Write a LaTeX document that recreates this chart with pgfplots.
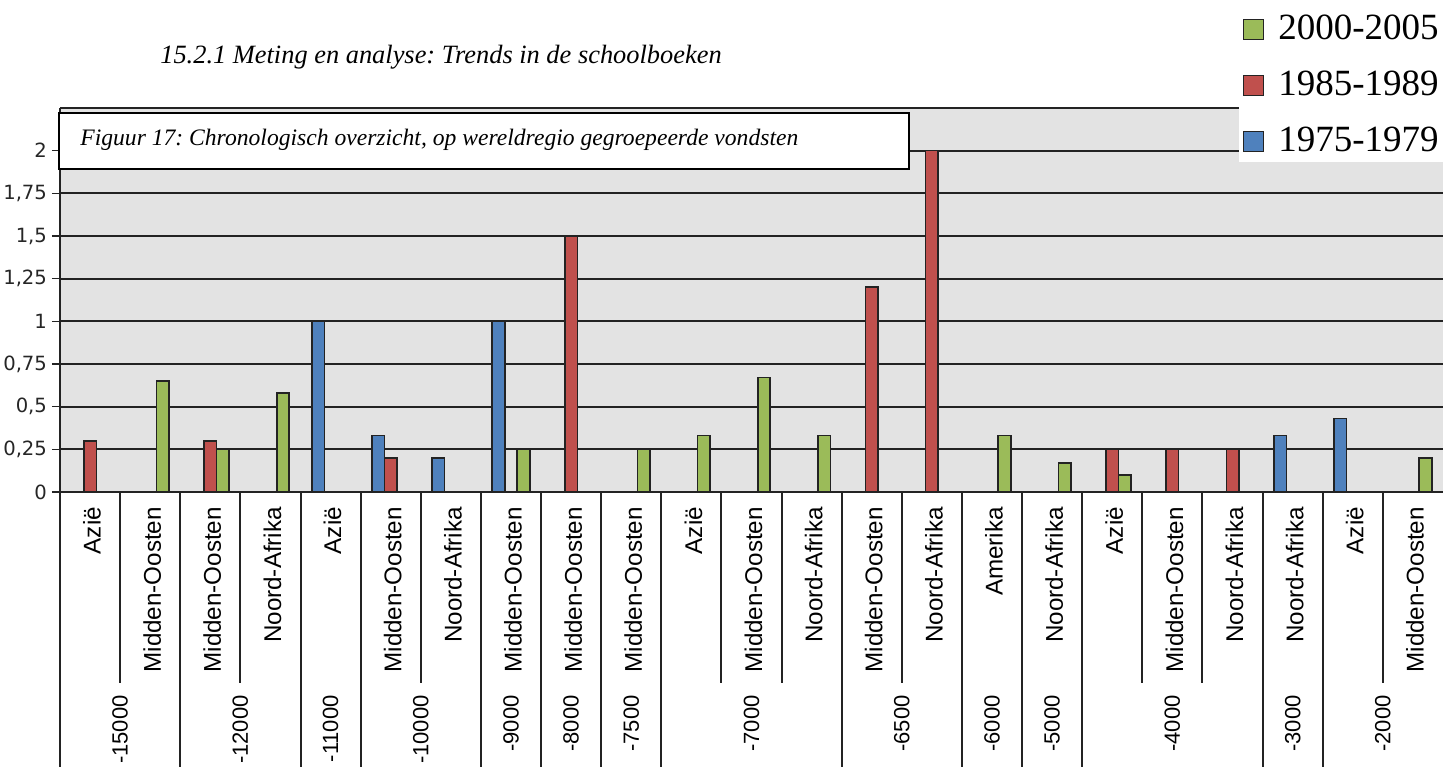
\documentclass[border=0pt]{standalone}
\usepackage{fontspec}
\setmainfont{Liberation Serif}
\newfontfamily\lsans{Liberation Sans}
\newfontfamily\dejavu{DejaVu Sans}
\usepackage{pgfplots}
\usepackage{pgfplotstable}
\pgfplotsset{compat=1.18}
\usetikzlibrary{calc}
\definecolor{cblue}{RGB}{79,129,189}
\definecolor{cred}{RGB}{192,80,77}
\definecolor{cgreen}{RGB}{155,187,89}
\definecolor{cbg}{RGB}{227,227,227}
\definecolor{cline}{RGB}{35,35,35}
\frenchspacing

\pgfplotstableread{
x y
4 1
5 0.33
6 0.2
7 1
20 0.33
21 0.43
}\bluedata
\pgfplotstableread{
x y
0 0.3
2 0.3
5 0.2
8 1.5
13 1.2
14 2
17 0.25
18 0.25
19 0.25
}\reddata
\pgfplotstableread{
x y
1 0.65
2 0.25
3 0.58
7 0.25
9 0.25
10 0.33
11 0.67
12 0.33
15 0.33
16 0.17
17 0.1
22 0.2
}\greendata

\tikzset{yearlab/.style={rotate=90, anchor=east, inner sep=0pt, font=\lsans\fontsize{11}{13}\selectfont}}

\begin{document}
\begin{tikzpicture}
\useasboundingbox (0pt,0pt) rectangle (728pt,383pt);
\begin{axis}[
  at={(30pt,137pt)}, anchor=south west,
  scale only axis, width=691.5pt, height=192pt,
  xmin=-0.5, xmax=22.5, ymin=0, ymax=2.25,
  enlargelimits=false, clip=false,
  axis lines*=left,
  axis line style={cline, line width=1pt},
  axis background/.style={fill=cbg},
  ymajorgrids, major grid style={cline, line width=0.9pt},
  ytick={0,0.25,0.5,0.75,1,1.25,1.5,1.75,2},
  yticklabels={0,{0,25},{0,5},{0,75},1,{1,25},{1,5},{1,75},2},
  yticklabel style={font=\dejavu\fontsize{9.8}{11}\selectfont, text=black!85, xshift=1pt},
  ytick style={cline, line width=0.8pt},
  tick align=outside, major tick length=4pt,
  xtick={0,...,22},
  xtick style={draw=none},
  xticklabels={Azië,Midden-Oosten,Midden-Oosten,Noord-Afrika,Azië,Midden-Oosten,Noord-Afrika,Midden-Oosten,Midden-Oosten,Midden-Oosten,Azië,Midden-Oosten,Noord-Afrika,Midden-Oosten,Noord-Afrika,Amerika,Noord-Afrika,Azië,Midden-Oosten,Noord-Afrika,Noord-Afrika,Azië,Midden-Oosten},
  xticklabel style={rotate=90, anchor=east, font=\lsans\fontsize{12.1}{14}\selectfont, yshift=-1pt},
  reverse legend,
  legend cell align=left,
  legend style={at={(1.0015,1.2654)}, anchor=north east, draw=none, fill=white,
    font=\fontsize{18.5}{20}\selectfont, row sep=12.25pt, column sep=6pt,
    inner xsep=2pt, inner ysep=3pt,
    nodes={inner sep=1pt}},
]
\addplot[ybar, bar width=6.25pt, bar shift=-6.25pt, fill=cblue, draw=cline, line width=0.8pt,
  legend image code/.code={\draw[fill=cblue, draw=cline, line width=0.6pt] (0pt,-5.5pt) rectangle (10pt,4.5pt);}]
  table[x=x,y=y]{\bluedata};
\addlegendentry{1975-1979}
\addplot[ybar, bar width=6.25pt, bar shift=0pt, fill=cred, draw=cline, line width=0.8pt,
  legend image code/.code={\draw[fill=cred, draw=cline, line width=0.6pt] (0pt,-5.5pt) rectangle (10pt,4.5pt);}]
  table[x=x,y=y]{\reddata};
\addlegendentry{1985-1989}
\addplot[ybar, bar width=6.25pt, bar shift=6.25pt, fill=cgreen, draw=cline, line width=0.8pt,
  legend image code/.code={\draw[fill=cgreen, draw=cline, line width=0.6pt] (0pt,-5.5pt) rectangle (10pt,4.5pt);}]
  table[x=x,y=y]{\greendata};
\addlegendentry{2000-2005}

% top border
\draw[cline, line width=1pt] (rel axis cs:0,1) -- (rel axis cs:1,1);
% long separators (group boundaries)
\pgfplotsinvokeforeach{-0.5,1.5,3.5,4.5,6.5,7.5,8.5,9.5,12.5,14.5,15.5,16.5,19.5,20.5}{
  \draw[cline, line width=1pt] (axis cs:#1,0) -- ++(0pt,-140pt);
}
% short separators (within groups)
\pgfplotsinvokeforeach{0.5,2.5,5.5,10.5,11.5,13.5,17.5,18.5,21.5}{
  \draw[cline, line width=1pt] (axis cs:#1,0) -- ++(0pt,-95.5pt);
}
% group (year) labels
\node[yearlab] at ($(axis cs:0.5,0)+(0pt,-101.5pt)$) {-15000};
\node[yearlab] at ($(axis cs:2.5,0)+(0pt,-101.5pt)$) {-12000};
\node[yearlab] at ($(axis cs:4,0)+(0pt,-101.5pt)$) {-11000};
\node[yearlab] at ($(axis cs:5.5,0)+(0pt,-101.5pt)$) {-10000};
\node[yearlab] at ($(axis cs:7,0)+(0pt,-101.5pt)$) {-9000};
\node[yearlab] at ($(axis cs:8,0)+(0pt,-101.5pt)$) {-8000};
\node[yearlab] at ($(axis cs:9,0)+(0pt,-101.5pt)$) {-7500};
\node[yearlab] at ($(axis cs:11,0)+(0pt,-101.5pt)$) {-7000};
\node[yearlab] at ($(axis cs:13.5,0)+(0pt,-101.5pt)$) {-6500};
\node[yearlab] at ($(axis cs:15,0)+(0pt,-101.5pt)$) {-6000};
\node[yearlab] at ($(axis cs:16,0)+(0pt,-101.5pt)$) {-5000};
\node[yearlab] at ($(axis cs:18,0)+(0pt,-101.5pt)$) {-4000};
\node[yearlab] at ($(axis cs:20,0)+(0pt,-101.5pt)$) {-3000};
\node[yearlab] at ($(axis cs:21.5,0)+(0pt,-101.5pt)$) {-2000};
% figure caption box
\node[draw=black, line width=1pt, fill=white, anchor=north west, minimum width=425pt, minimum height=28pt, inner sep=0pt]
  at ($(rel axis cs:0,1)+(-1pt,-2pt)$) {};
\node[anchor=west, inner sep=0pt, font=\itshape\fontsize{11.8}{14}\selectfont]
  at ($(rel axis cs:0,1)+(10pt,-16pt)$) {Figuur 17: Chronologisch overzicht, op wereldregio gegroepeerde vondsten};
\end{axis}
\node[anchor=center, inner sep=0pt, font=\itshape\fontsize{13.2}{15}\selectfont]
  at (220.5pt,354.5pt) {15.2.1 Meting en analyse: Trends in de schoolboeken};
\end{tikzpicture}
\end{document}
